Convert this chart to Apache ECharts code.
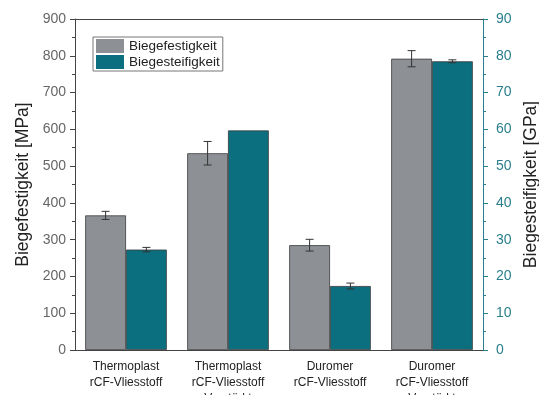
<!DOCTYPE html>
<html>
<head>
<meta charset="utf-8">
<script src="https://cdn.jsdelivr.net/npm/echarts@6/dist/echarts.min.js"></script>
<style>
  html, body { margin: 0; padding: 0; background: #fff; }
  #chart { width: 539px; height: 395px; }
</style>
</head>
<body>
<div id="chart"></div>
<script>
// Sample groups (x axis)
const categories = [
  'Thermoplast\nrCF-Vliesstoff',
  'Thermoplast\nrCF-Vliesstoff\nVerstärkt',
  'Duromer\nrCF-Vliesstoff',
  'Duromer\nrCF-Vliesstoff\nVerstärkt'
];
// Flexural strength [MPa] with standard deviation
const festigkeit = [366, 535, 285, 792];
const festigkeitErr = [11, 32, 16, 22];
// Flexural modulus [GPa] with standard deviation
const steifigkeit = [27.3, 59.7, 17.4, 78.5];
const steifigkeitErr = [0.6, 0, 0.8, 0.4];

const leftTicks = [0, 900, 100];
const rightTicks = [0, 90, 10];

const GRAY = '#8d9196';
const TEAL = '#0b6f80';
const AXIS_TEAL = '#2a7e8c';
const FONT = '"Liberation Sans", Arial, sans-serif';

const chart = echarts.init(document.getElementById('chart'));

function errorData(vals, errs) {
  return vals.map((v, i) => [i, v - errs[i], v + errs[i], errs[i]]);
}

function errorRenderer(side) {
  return function (params, api) {
    const err = api.value(3);
    if (!err) return null;
    const band = api.size([1, 0])[0];
    const xi = api.value(0);
    const lo = api.coord([xi, api.value(1)]);
    const hi = api.coord([xi, api.value(2)]);
    const x = lo[0] + side * band * 0.2;
    const cap = 4;
    const style = { stroke: '#333', lineWidth: 1 };
    return {
      type: 'group',
      children: [
        { type: 'line', shape: { x1: x, y1: lo[1], x2: x, y2: hi[1] }, style },
        { type: 'line', shape: { x1: x - cap, y1: lo[1], x2: x + cap, y2: lo[1] }, style },
        { type: 'line', shape: { x1: x - cap, y1: hi[1], x2: x + cap, y2: hi[1] }, style }
      ]
    };
  };
}

chart.setOption({
  animation: false,
  textStyle: { fontFamily: FONT },
  grid: {
    left: 75, right: 56, top: 19, bottom: 45,
    containLabel: false, outerBoundsMode: 'none'
  },
  legend: {
    left: 93, top: 37,
    orient: 'vertical',
    itemWidth: 28, itemHeight: 14, itemGap: 2,
    padding: [2, 3, 2, 3],
    borderColor: '#777', borderWidth: 1,
    icon: 'rect',
    itemStyle: { borderWidth: 0 },
    textStyle: { fontSize: 13.5, color: '#222', fontFamily: FONT },
    data: ['Biegefestigkeit', 'Biegesteifigkeit']
  },
  xAxis: [
    {
      type: 'category', data: categories, position: 'bottom',
      axisLine: { lineStyle: { color: '#444', width: 1 } },
      axisTick: { alignWithLabel: true, length: 5, lineStyle: { color: '#444' } },
      axisLabel: { color: '#222', fontSize: 12, lineHeight: 16, margin: 9, interval: 0 }
    },
    {
      type: 'category', data: categories, position: 'bottom',
      axisLine: { show: false },
      axisTick: { interval: 0, length: 3, lineStyle: { color: '#444' } },
      axisLabel: { show: false }
    },
    {
      type: 'category', data: categories, position: 'top',
      axisLine: { lineStyle: { color: '#444', width: 1 } },
      axisTick: { alignWithLabel: true, inside: true, length: 5, lineStyle: { color: '#444' } },
      axisLabel: { show: false }
    },
    {
      type: 'category', data: categories, position: 'top',
      axisLine: { show: false },
      axisTick: { interval: 0, inside: true, length: 3, lineStyle: { color: '#444' } },
      axisLabel: { show: false }
    }
  ],
  yAxis: [
    {
      type: 'value', position: 'left',
      min: leftTicks[0], max: leftTicks[1], interval: leftTicks[2],
      name: 'Biegefestigkeit [MPa]', nameLocation: 'middle', nameGap: 33,
      nameTextStyle: { fontSize: 17.5, color: '#222' },
      axisLine: { show: true, lineStyle: { color: '#444' } },
      axisTick: { show: true, length: 5, lineStyle: { color: '#444' } },
      minorTick: { show: true, splitNumber: 2, length: 3, lineStyle: { color: '#444' } },
      splitLine: { show: false },
      axisLabel: { color: '#666', fontSize: 14, margin: 9 }
    },
    {
      type: 'value', position: 'right',
      min: rightTicks[0], max: rightTicks[1], interval: rightTicks[2],
      name: 'Biegesteifigkeit [GPa]', nameLocation: 'middle', nameGap: 39,
      nameRotate: 90,
      nameTextStyle: { fontSize: 17.5, color: '#222' },
      axisLine: { show: true, lineStyle: { color: AXIS_TEAL } },
      axisTick: { show: true, length: 5, lineStyle: { color: AXIS_TEAL } },
      minorTick: { show: true, splitNumber: 2, length: 3, lineStyle: { color: AXIS_TEAL } },
      splitLine: { show: false },
      axisLabel: { color: AXIS_TEAL, fontSize: 14, margin: 13 }
    }
  ],
  series: [
    {
      name: 'Biegefestigkeit', type: 'bar', xAxisIndex: 0, yAxisIndex: 0,
      data: festigkeit, barGap: 0, barCategoryGap: '20%',
      itemStyle: { color: GRAY, borderColor: '#3a3a3a', borderWidth: 0.8 }
    },
    {
      name: 'Biegesteifigkeit', type: 'bar', xAxisIndex: 0, yAxisIndex: 1,
      data: steifigkeit, barGap: 0, barCategoryGap: '20%',
      itemStyle: { color: TEAL, borderColor: '#3a3a3a', borderWidth: 0.8 }
    },
    {
      type: 'custom', xAxisIndex: 0, yAxisIndex: 0,
      renderItem: errorRenderer(-1),
      encode: { x: 0, y: [1, 2] },
      data: errorData(festigkeit, festigkeitErr), z: 10
    },
    {
      type: 'custom', xAxisIndex: 0, yAxisIndex: 1,
      renderItem: errorRenderer(1),
      encode: { x: 0, y: [1, 2] },
      data: errorData(steifigkeit, steifigkeitErr), z: 10
    }
  ]
});
</script>
</body>
</html>
